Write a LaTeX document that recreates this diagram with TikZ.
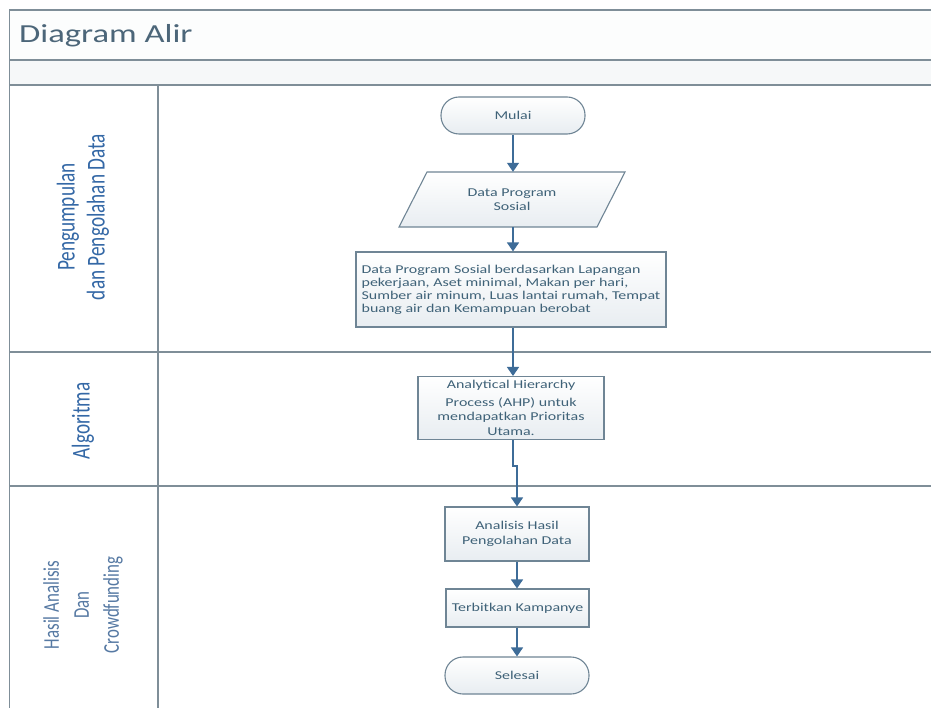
\documentclass[tikz,border=0pt]{standalone}
\usepackage{fontspec}
\newfontfamily\hfont{Carlito}[FakeStretch=1.33]
\newfontfamily\vfont{Carlito}[FakeStretch=0.75]
\usetikzlibrary{arrows.meta}
\definecolor{framecol}{HTML}{7F8E98}
\definecolor{bandfill}{HTML}{F6F8F9}
\definecolor{titlefill}{HTML}{FCFDFD}
\definecolor{boxline}{HTML}{6F8595}
\definecolor{boxbot}{HTML}{E8EDF1}
\definecolor{boxtext}{HTML}{3F6278}
\definecolor{arrcol}{HTML}{3E6C98}
\definecolor{titlecol}{HTML}{4C6679}
\definecolor{lanecol}{HTML}{3468A6}
\definecolor{lanecolb}{HTML}{5679A3}
\newcommand\boxtxt{\hfont\fontsize{12}{14.5}\selectfont}
\newcommand\infotxt{\hfont\fontsize{12}{13}\selectfont}
\newcommand\titletxt{\hfont\fontsize{26}{30}\selectfont}
\newcommand\lanetxt{\vfont\fontsize{25.7}{30}\selectfont}
\newcommand\lanetxtb{\vfont\fontsize{22.5}{30}\selectfont}
\begin{document}
\begin{tikzpicture}[x=1pt,y=-1pt,
  framel/.style={draw=framecol, line width=1.5pt},
  box/.style={draw=boxline, line width=1.1pt, top color=white, bottom color=boxbot,
    text=boxtext, font=\boxtxt, align=center, inner sep=4pt},
  term/.style={box, rounded corners=18pt, minimum width=144pt, minimum height=37pt},
  arr/.style={draw=arrcol, line width=1.2pt, -{Triangle[width=12pt,length=9pt]}},
  lane/.style={rotate=90, align=center, text=lanecol, font=\lanetxt}
]
\useasboundingbox (0,0) rectangle (931,708);
\fill[white] (0,0) rectangle (931,708);
% frame
\fill[titlefill] (9.5,10) rectangle (931,60);
\fill[bandfill] (9.5,60) rectangle (931,85);
\draw[framel] (931,10) -- (9.5,10) -- (9.5,708);
\draw[framel] (9.5,60) -- (931,60);
\draw[framel] (9.5,85) -- (931,85);
\draw[framel] (9.5,352) -- (931,352);
\draw[framel] (9.5,486) -- (931,486);
\draw[framel] (158,85) -- (158,708);
% title
\node[anchor=base west, inner sep=0, text=titlecol, font=\titletxt] (title) at (19,43) {Diagram Alir};
% lane labels
\node[lane] (lane1) at (83,217) {Pengumpulan\\dan Pengolahan Data};
\node[lane] (lane2) at (83,421) {Algoritma};
\node[lane, text=lanecolb, font=\lanetxtb] (lane3) at (83,605) {Hasil Analisis\\Dan\\Crowdfunding};
% nodes
\node[term] (mulai) at (513,115.5) {Mulai};
\path[draw=boxline, line width=1.1pt, top color=white, bottom color=boxbot]
  (427,172) -- (625,172) -- (597,227) -- (399,227) -- cycle;
\node[minimum width=226pt, minimum height=55pt, inner sep=0, align=center, text=boxtext, font=\boxtxt] (dps) at (512,199.5) {Data Program\\Sosial};
\node[box, minimum width=310pt, minimum height=75pt, align=left, font=\infotxt, inner sep=2pt] (info) at (511,289.5)
  {Data Program Sosial berdasarkan Lapangan\\pekerjaan, Aset minimal, Makan per hari,\\Sumber air minum, Luas lantai rumah, Tempat\\buang air dan Kemampuan berobat};
\node[box, minimum width=186pt, minimum height=62pt] (ahp) at (511,408)
  {Analytical Hierarchy\\[3pt]Process (AHP) untuk\\mendapatkan Prioritas\\Utama.};
\node[box, minimum width=144pt, minimum height=54pt] (ana) at (517,534) {Analisis Hasil\\Pengolahan Data};
\node[box, minimum width=143pt, minimum height=38pt] (terb) at (517.5,608) {Terbitkan Kampanye};
\node[term] (sel) at (517,675.5) {Selesai};
% connectors
\draw[arr] (mulai.south) -- (mulai.south |- dps.north);
\draw[arr] (dps.south -| mulai.south) -- (info.north -| mulai.south);
\draw[arr] (info.south -| mulai.south) -- (ahp.north -| mulai.south);
\draw[arr] (ahp.south -| mulai.south) -- ++(0,26) -| (ana.north);
\draw[arr] (ana.south) -- (ana.south |- terb.north);
\draw[arr] (terb.south -| ana.south) -- (sel.north -| ana.south);
\end{tikzpicture}
\end{document}
